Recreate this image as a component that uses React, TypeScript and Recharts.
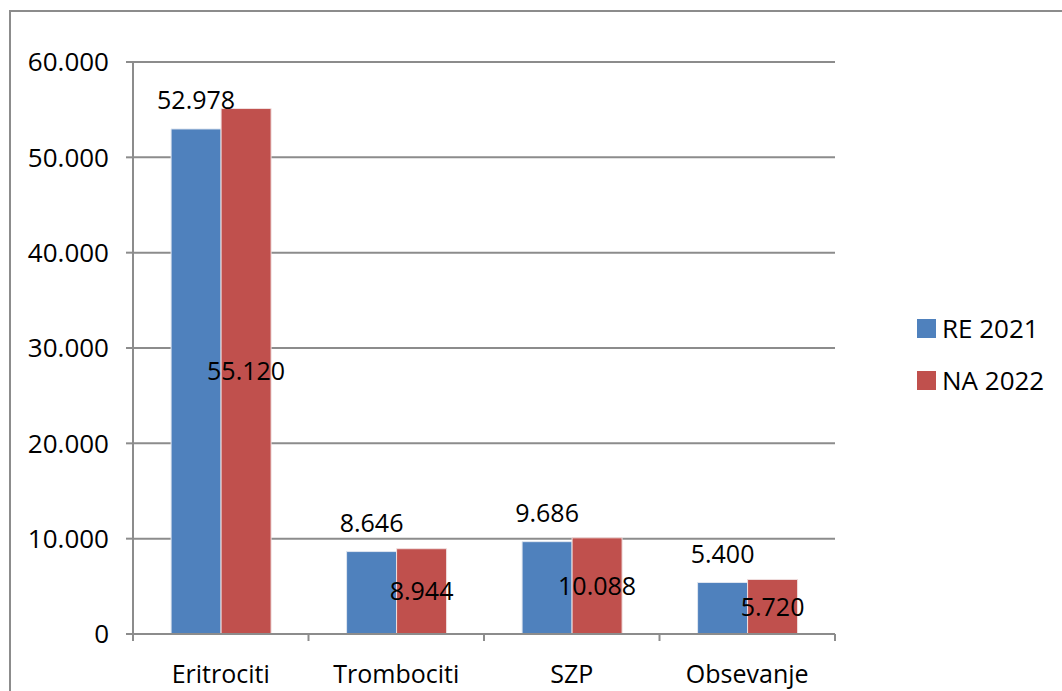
import React from 'react';
import { BarChart, Bar, XAxis, YAxis, CartesianGrid, LabelList } from 'recharts';

const categories = ['Eritrociti', 'Trombociti', 'SZP', 'Obsevanje'];
const re2021 = [52978, 8646, 9686, 5400];
const na2022 = [55120, 8944, 10088, 5720];
const yTicks = [0, 10000, 20000, 30000, 40000, 50000, 60000];
const seriesNames = ['RE 2021', 'NA 2022'];
const seriesColors = ['#4F81BD', '#C0504D'];

const data = categories.map((name, i) => ({ name, re: re2021[i], na: na2022[i] }));

const W = 1062;
const H = 691;
const MARGIN = { top: 62, right: 227, bottom: 0, left: 0 };
const Y_AXIS_W = 133;
const X_AXIS_H = 57;
const BAND = (W - MARGIN.left - MARGIN.right - Y_AXIS_W) / categories.length;
const FONT = 'Open Sans';
const FS = 25;
const GRAY = '#8c8c8c';

const fmt = (v: any) => String(v).replace(/\B(?=(\d{3})+(?!\d))/g, '.');

const CategoryTick = (props: any) => {
  const { x, y, payload, index } = props;
  const axisY = y - 7;
  const last = index === categories.length - 1;
  return (
    <g>
      <line x1={x - BAND / 2} x2={x - BAND / 2} y1={axisY} y2={axisY + 7} stroke={GRAY} strokeWidth={2} />
      {last && <line x1={x + BAND / 2} x2={x + BAND / 2} y1={axisY} y2={axisY + 7} stroke={GRAY} strokeWidth={2} />}
      <text x={x} y={axisY + 49} textAnchor="middle" fontSize={FS} fontFamily={FONT} fill="#000">
        {payload.value}
      </text>
    </g>
  );
};

export default function App() {
  return (
    <div style={{ position: 'fixed', left: 0, top: 0, width: W, height: H, overflow: 'hidden', background: '#fff' }}>
      <div style={{ position: 'absolute', left: 9, top: 10, width: 1120, height: 760, border: `2px solid ${GRAY}` }} />
      <div style={{ position: 'absolute', left: 0, top: 0 }}>
        <BarChart width={W} height={H} data={data} margin={MARGIN} barCategoryGap="21.7%" barGap={0}>
          <CartesianGrid horizontal vertical={false} stroke={GRAY} strokeWidth={2} />
          <YAxis
            width={Y_AXIS_W}
            domain={[0, 60000]}
            ticks={yTicks}
            interval={0}
            tickFormatter={fmt}
            tickSize={7}
            tickMargin={17}
            axisLine={{ stroke: GRAY, strokeWidth: 2 }}
            tickLine={{ stroke: GRAY, strokeWidth: 2 }}
            tick={{ fontSize: 26, fontFamily: FONT, fill: '#000' }}
          />
          <XAxis
            dataKey="name"
            height={X_AXIS_H}
            tickSize={7}
            tickMargin={0}
            tickLine={false}
            axisLine={{ stroke: GRAY, strokeWidth: 2 }}
            tick={<CategoryTick />}
            interval={0}
          />
          <Bar dataKey="re" name={seriesNames[0]} fill={seriesColors[0]} stroke="#dfe6f0" strokeWidth={1} isAnimationActive={false}>
            <LabelList dataKey="re" position="top" offset={20} formatter={fmt} fill="#000" fontSize={FS} fontFamily={FONT} />
          </Bar>
          <Bar dataKey="na" name={seriesNames[1]} fill={seriesColors[1]} stroke="#f0dfdf" strokeWidth={1} isAnimationActive={false}>
            <LabelList dataKey="na" position="center" formatter={fmt} fill="#000" fontSize={FS} fontFamily={FONT} />
          </Bar>
        </BarChart>
      </div>
      {seriesNames.map((s, i) => (
        <div
          key={s}
          style={{
            position: 'absolute',
            left: 917,
            top: 318 + i * 52,
            display: 'flex',
            alignItems: 'center',
            fontFamily: FONT,
            fontSize: 26,
            color: '#000',
            height: 20,
          }}
        >
          <div style={{ width: 19, height: 19, background: seriesColors[i], marginRight: 6 }} />
          <span style={{ lineHeight: '20px' }}>{s}</span>
        </div>
      ))}
    </div>
  );
}
